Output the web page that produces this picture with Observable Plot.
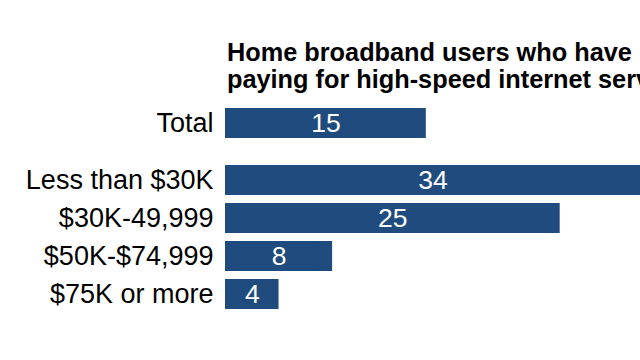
<!DOCTYPE html>
<html><head><meta charset="utf-8">
<script src="https://cdn.jsdelivr.net/npm/d3@7"></script>
<script src="https://cdn.jsdelivr.net/npm/@observablehq/plot@0.6"></script>
<style>
body{margin:0;background:#fff;}
#wrap{position:relative;width:640px;height:360px;overflow:hidden;font-family:"Liberation Sans",Arial,sans-serif;}
#title{position:absolute;left:227px;top:39px;white-space:nowrap;font-weight:bold;font-size:25.3px;line-height:27px;color:#000;}
#total{position:absolute;left:0;top:103.5px;}
#income{position:absolute;left:0;top:160.7px;}
</style></head><body>
<div id="wrap">
<div id="title">Home broadband users who have<br>paying for high-speed internet service</div>
<div id="total"></div>
<div id="income"></div>
</div>
<script>
const totalLabel = ["Total"];
const totalValue = [15];
const incomeGroups = ["Less than $30K", "$30K-49,999", "$50K-$74,999", "$75K or more"];
const incomeValues = [34, 25, 8, 4];
const xMax = 31;
const barColor = "#1f4b7e";

function chart(cats, vals, h) {
  const data = cats.map((c, i) => ({cat: c, v: vals[i]}));
  return Plot.plot({
    width: 640, height: h,
    marginLeft: 225, marginRight: 0, marginTop: 0, marginBottom: 0,
    style: {fontFamily: '"Liberation Sans", Arial, sans-serif', fontSize: "27px", color: "#000", background: "transparent"},
    x: {domain: [0, xMax], axis: null},
    y: {domain: cats, paddingInner: 0.2, paddingOuter: 0.1, label: null, tickSize: 0, tickPadding: 12},
    marks: [
      Plot.barX(data, {x: "v", y: "cat", fill: barColor, clip: true}),
      Plot.text(data, {x: d => Math.min(d.v, xMax) / 2, y: "cat", text: d => String(d.v), fill: "white", fontSize: 26.5})
    ]
  });
}
document.getElementById("total").append(chart(totalLabel, totalValue, 38));
document.getElementById("income").append(chart(incomeGroups, incomeValues, 152));
</script>
</body></html>
